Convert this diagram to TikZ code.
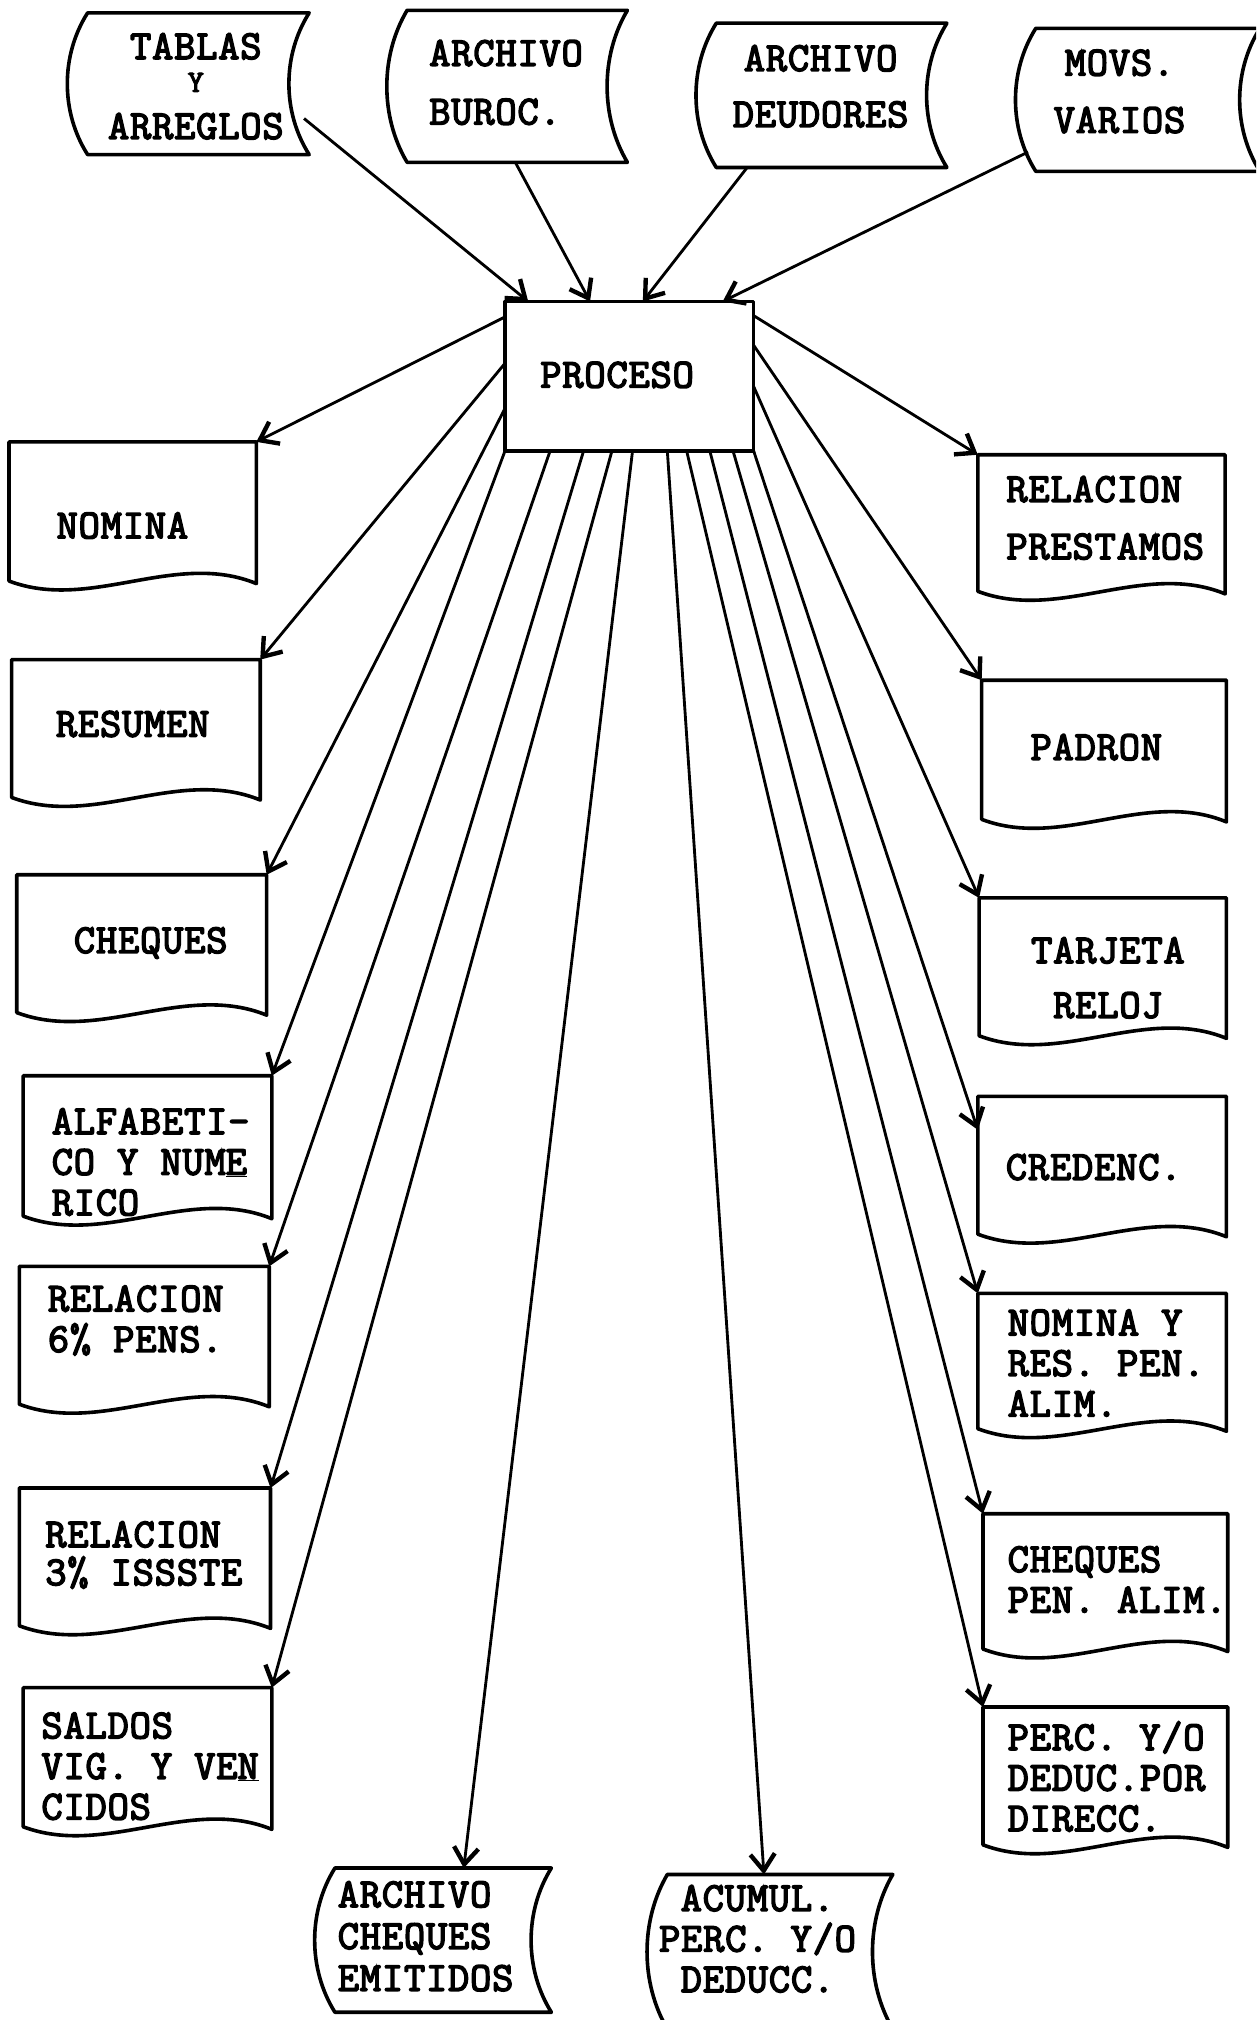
\documentclass[tikz,border=0pt]{standalone}
\usepackage{fontspec}
\newfontfamily\typewriter{Latin Modern Mono}[FakeBold=3.6,LetterSpace=2]
\usetikzlibrary{arrows.meta,fit,calc}

\tikzset{
  boxline/.style={line width=2.8pt, line join=round},
  area/.style={inner sep=0pt, outer sep=0pt, draw=none},
  lbl/.style={font=\typewriter\fontsize{32}{31.5}\selectfont, inner sep=0pt},
  lblL/.style={lbl, align=left, anchor=west},
  lblC/.style={lbl, align=center, anchor=center},
  flow/.style={line width=2.2pt, -{Straight Barb[length=13pt,width=19pt,line width=3.4pt]}},
}

% document symbol: straight top and sides, wavy bottom (name, x0, y0, x1, y1)
\newcommand{\docbox}[5]{%
  \node[area, fit={(#2,#3) (#4,#5)}] (#1) {};
  \draw[boxline] (#1.south west) -- (#1.north west) -- (#1.north east) -- ([shift={(0,2)}]#1.south east)
    .. controls ({#2+0.67*(#4-#2)},{#5-24}) and ({#2+0.33*(#4-#2)},{#5+24}) .. (#1.south west) -- cycle;
}

% storage symbol: straight top and bottom, both sides bowed to the left
\newcommand{\storebox}[5]{%
  \node[area, fit={(#2,#3) (#4,#5)}] (#1) {};
  \draw[boxline] (#1.north west) -- (#1.north east)
    .. controls ({#4-21},{#3+0.3*(#5-#3)}) and ({#4-21},{#5-0.3*(#5-#3)}) .. (#1.south east)
    -- (#1.south west)
    .. controls ({#2-21},{#5-0.3*(#5-#3)}) and ({#2-21},{#3+0.3*(#5-#3)}) .. (#1.north west) -- cycle;
}

\begin{document}
\begin{tikzpicture}[x=1pt,y=-1pt]
\useasboundingbox (0,0) rectangle (975,1568);
\fill[white] (0,0) rectangle (975,1568);
\clip (0,0) rectangle (975,1568);

% inputs
\storebox{tablas}{68}{10}{240}{120}
\storebox{buroc}{316}{8}{487}{126}
\storebox{deud}{556}{18}{735}{130}
\storebox{movs}{804}{22}{978}{133}
\node[lblC] (t-tablas) at (152,67) {TABLAS\\[-6pt]{\fontsize{24}{24}\selectfont Y}\\[5pt]ARREGLOS};
\node[lblL] (t-buroc) at (333,64) {ARCHIVO\\[14pt]BUROC.};
\node[lblC] (t-deud) at (637,67) {ARCHIVO\\[12pt]DEUDORES};
\node[lblC] (t-movs) at (869,71) {MOVS.\\[13pt]VARIOS};

% process
\node[area, fit={(392,234) (585,350)}] (proc) {};
\draw[boxline] (proc.north west) rectangle (proc.south east);
\node[lblC] (t-proc) at (479,291) {PROCESO};

% reports, left column
\docbox{nomina}{7}{343}{199}{451}
\docbox{resumen}{9}{512}{202}{619}
\docbox{cheques}{13}{679}{207}{786}
\docbox{alfa}{18}{835}{211}{944}
\docbox{rel6}{15}{983}{209}{1090}
\docbox{rel3}{15}{1155}{210}{1262}
\docbox{saldos}{18}{1310}{211}{1418}
\node[lblC] (t-nomina) at (95,408) {NOMINA};
\node[lblC] (t-resumen) at (103,562) {RESUMEN};
\node[lblC] (t-cheques) at (117,732) {CHEQUES};
\node[lblL] (t-alfa) at (40,902) {ALFABETI-\\CO Y NUM\underline{E}\\RICO};
\node[lblL] (t-rel6) at (37,1025) {RELACION\\6\% PENS.};
\node[lblL] (t-rel3) at (35,1207) {RELACION\\[-2pt]3\% ISSSTE};
\node[lblL] (t-saldos) at (32,1371) {SALDOS\\VIG. Y VE\underline{N}\\CIDOS};

% reports, right column
\docbox{prest}{759}{353}{951}{459}
\docbox{padron}{762}{528}{952}{636}
\docbox{tarjeta}{760}{697}{952}{804}
\docbox{credenc}{759}{851}{952}{958}
\docbox{nomres}{759}{1004}{952}{1109}
\docbox{chqpen}{763}{1175}{953}{1280}
\docbox{perc}{763}{1325}{953}{1432}
\node[lblL] (t-prest) at (781,402) {RELACION\\[13pt]PRESTAMOS};
\node[lblC] (t-padron) at (851,580) {PADRON};
\node[lblC] (t-tarjeta) at (860,759) {TARJETA\\[11pt]RELOJ};
\node[lblC] (t-credenc) at (849,906) {CREDENC.};
\node[lblL] (t-nomres) at (782,1058) {NOMINA Y\\RES. PEN.\\ALIM.};
\node[lblL] (t-chqpen) at (782,1226) {CHEQUES\\PEN. ALIM.};
\node[lblL] (t-perc) at (782,1379) {PERC. Y/O\\DEDUC.POR\\DIRECC.};

% output files
\storebox{archch}{260}{1450}{428}{1562}
\storebox{acumul}{518}{1455}{693}{1575}
\node[lblL] (t-archch) at (262,1503) {ARCHIVO\\[1pt]CHEQUES\\[1pt]EMITIDOS};
\node[lblC] (t-acumul) at (588,1505) {ACUMUL.\\PERC. Y/O\\DEDUCC.};

% flows into the process
\draw[flow] ([shift={(-4,-28)}]tablas.south east) -- ([shift={(18,0)}]proc.north west);
\draw[flow] ([shift={(84,0)}]buroc.south west) -- ([shift={(66,0)}]proc.north west);
\draw[flow] ([shift={(24,0)}]deud.south west) -- ([shift={(107,0)}]proc.north west);
\draw[flow] ([shift={(-6,-15)}]movs.south west) -- ([shift={(169,0)}]proc.north west);

% flows out of the process
\draw[flow] ([shift={(0,12)}]proc.north west) -- (nomina.north east);
\draw[flow] ([shift={(0,48)}]proc.north west) -- (resumen.north east);
\draw[flow] ([shift={(0,83)}]proc.north west) -- (cheques.north east);
\draw[flow] (proc.south west) -- (alfa.north east);
\draw[flow] ([shift={(35,0)}]proc.south west) -- (rel6.north east);
\draw[flow] ([shift={(61,0)}]proc.south west) -- (rel3.north east);
\draw[flow] ([shift={(83,0)}]proc.south west) -- (saldos.north east);
\draw[flow] ([shift={(99,0)}]proc.south west) -- ([shift={(100,0)}]archch.north west);
\draw[flow] ([shift={(126,0)}]proc.south west) -- ([shift={(75,0)}]acumul.north west);
\draw[flow] ([shift={(141,0)}]proc.south west) -- (perc.north west);
\draw[flow] ([shift={(159,0)}]proc.south west) -- (chqpen.north west);
\draw[flow] ([shift={(177,0)}]proc.south west) -- (nomres.north west);
\draw[flow] (proc.south east) -- ([shift={(0,26)}]credenc.north west);
\draw[flow] ([shift={(0,66)}]proc.north east) -- (tarjeta.north west);
\draw[flow] ([shift={(0,34)}]proc.north east) -- (padron.north west);
\draw[flow] ([shift={(0,11)}]proc.north east) -- (prest.north west);
\end{tikzpicture}
\end{document}
